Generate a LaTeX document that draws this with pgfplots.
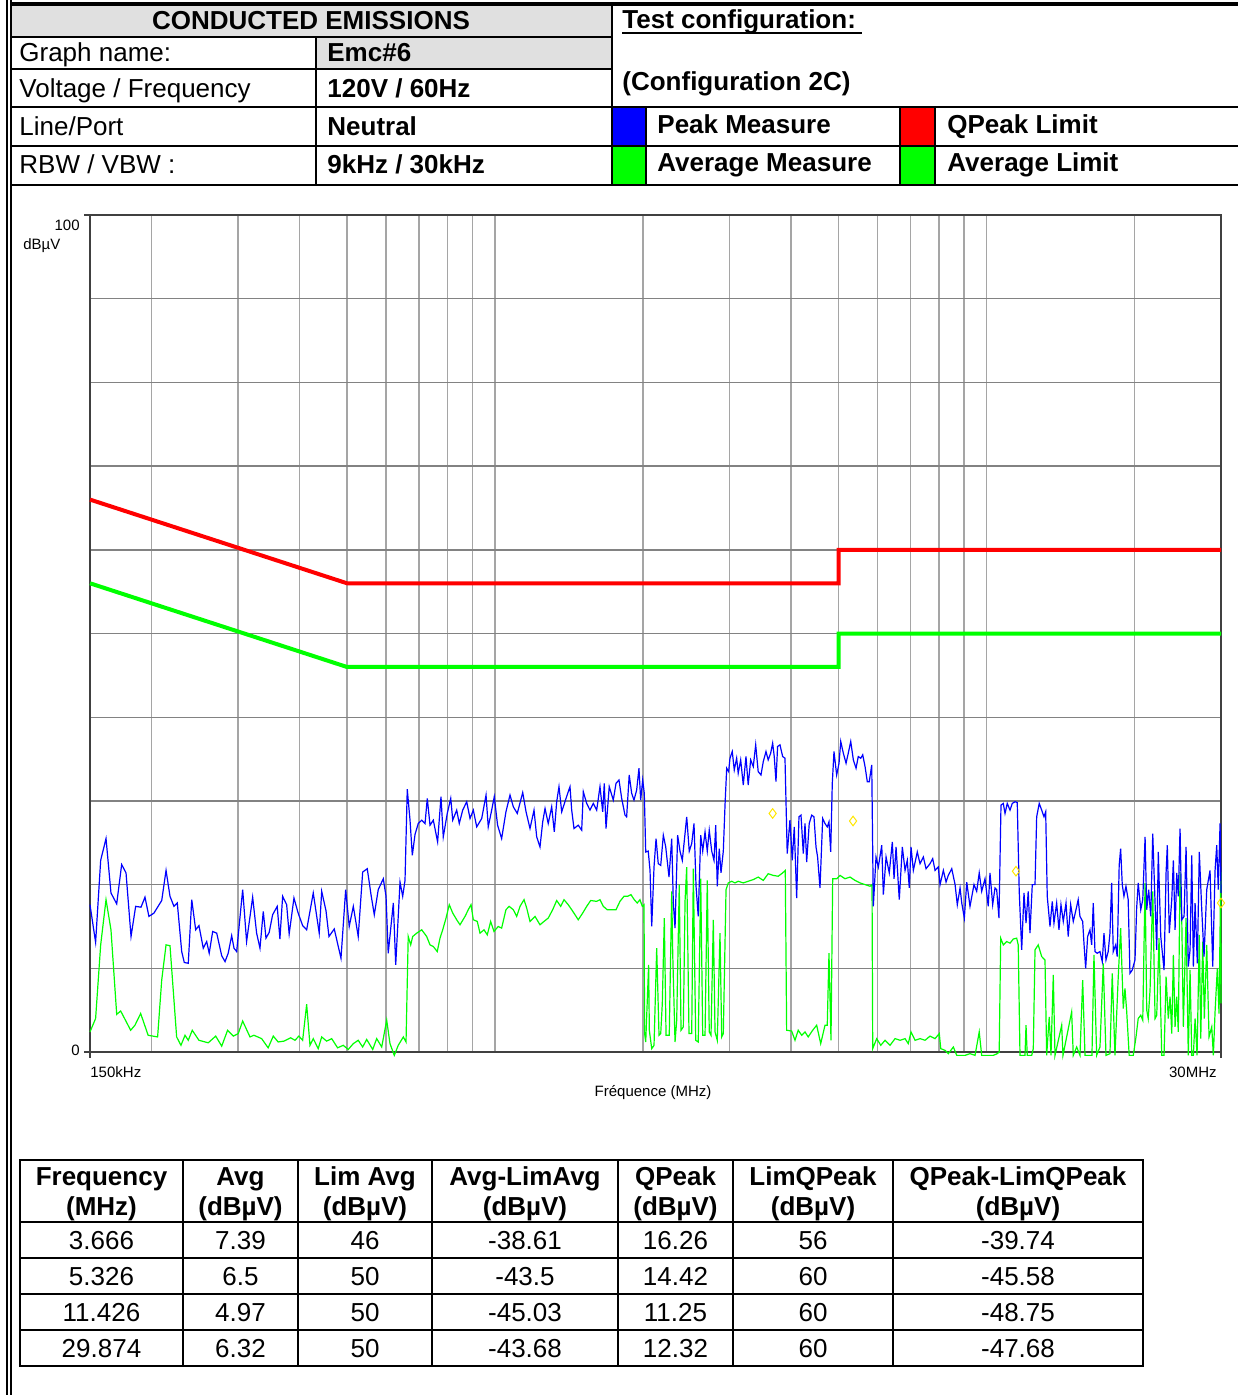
\documentclass[border=0pt]{standalone}
\usepackage{fontspec}
\setmainfont{Liberation Sans}
\usepackage{pgfplots}
\pgfplotsset{compat=1.18}

\definecolor{hdrgray}{RGB}{224,224,224}
\definecolor{gridv}{RGB}{165,165,165}
\definecolor{gridh}{RGB}{130,130,130}
\definecolor{peakblue}{RGB}{0,0,255}
\definecolor{avggreen}{RGB}{0,255,0}
\definecolor{limred}{RGB}{255,0,0}
\definecolor{qpyellow}{RGB}{255,230,0}

\newcommand{\hf}{\fontsize{13}{15}\selectfont}
\newcommand{\af}{\fontsize{7.5}{9}\selectfont}

\begin{document}
\begin{tikzpicture}
\begin{scope}[x=0.5pt,y=-0.5pt,every node/.style={inner sep=0pt}]
\path[use as bounding box] (0,0) rectangle (1238,1395);
% header table
\fill[hdrgray] (10.5,4) rectangle (612,37);
\fill[hdrgray] (316,37) rectangle (612,69);
\fill[peakblue] (612,107) rectangle (646,146);
\fill[avggreen] (612,146) rectangle (646,185);
\fill[limred] (900,107) rectangle (935,146);
\fill[avggreen] (900,146) rectangle (935,185);
\draw[line width=1.6pt] (10.5,4) -- (1238,4);
\draw[line width=1pt] (10.5,37) -- (612,37) (10.5,69) -- (612,69);
\draw[line width=1pt] (10.5,107) -- (1238,107) (10.5,146) -- (1238,146);
\draw[line width=1.4pt] (10.5,185) -- (1238,185);
\draw[line width=1pt] (316,37) -- (316,185) (612,4) -- (612,185)
  (646,107) -- (646,185) (900,107) -- (900,185) (935,107) -- (935,185);
\draw[line width=1pt] (6.5,0) -- (6.5,1395) (10.5,0) -- (10.5,1395);

\node[anchor=base,font=\bfseries\hf] at (311,30) {CONDUCTED EMISSIONS};
\node[anchor=base west,font=\hf] at (19,62) {Graph name:};
\node[anchor=base west,font=\hf] at (19,98) {Voltage / Frequency};
\node[anchor=base west,font=\hf] at (19,136) {Line/Port};
\node[anchor=base west,font=\hf] at (19,174) {RBW / VBW :};
\node[anchor=base west,font=\bfseries\hf] at (327,62) {Emc\#6};
\node[anchor=base west,font=\bfseries\hf] at (327,98) {120V / 60Hz};
\node[anchor=base west,font=\bfseries\hf] at (327,136) {Neutral};
\node[anchor=base west,font=\bfseries\hf] at (327,174) {9kHz / 30kHz};
\node[anchor=base west,font=\bfseries\hf] at (622,29) {Test configuration:};
\draw[line width=1pt] (622,33) -- (862,33);
\node[anchor=base west,font=\bfseries\hf] at (622,91) {(Configuration 2C)};
\node[anchor=base west,font=\bfseries\hf] at (657,134) {Peak Measure};
\node[anchor=base west,font=\bfseries\hf] at (657,172) {Average Measure};
\node[anchor=base west,font=\bfseries\hf] at (947,134) {QPeak Limit};
\node[anchor=base west,font=\bfseries\hf] at (947,172) {Average Limit};

% axis texts
\node[anchor=base east,font=\af] at (80,231) {100};
\node[anchor=base west,font=\af] at (23,250) {dBµV};
\node[anchor=base east,font=\af] at (80,1055) {0};
\node[anchor=base west,font=\af] at (90,1077) {150kHz};
\node[anchor=base east,font=\af] at (1217,1077) {30MHz};
\node[anchor=base,font=\af] at (653,1096) {Fréquence (MHz)};
\draw[line width=0.6pt,black!75] (84,215) -- (90,215) (84,1052) -- (90,1052)
  (90,1052) -- (90,1058) (1221,1052) -- (1221,1058);

% results table
\draw[line width=1.2pt] (20,1160) rectangle (1143,1366);
\draw[line width=1pt] (20,1222) -- (1143,1222) (20,1258) -- (1143,1258)
  (20,1294) -- (1143,1294) (20,1330) -- (1143,1330);
\draw[line width=1pt] (183,1160) -- (183,1366) (298,1160) -- (298,1366)
  (432,1160) -- (432,1366) (618,1160) -- (618,1366) (733,1160) -- (733,1366)
  (893,1160) -- (893,1366);
\foreach \cx/\ta/\tb in {101.5/Frequency/(MHz), 240.5/Avg/(dBµV), 365/Lim Avg/(dBµV),
    525/Avg-LimAvg/(dBµV), 675.5/QPeak/(dBµV), 813/LimQPeak/(dBµV), 1018/QPeak-LimQPeak/(dBµV)} {
  \node[anchor=base,font=\bfseries\hf] at (\cx,1185) {\ta};
  \node[anchor=base,font=\bfseries\hf] at (\cx,1215) {\tb};
}
\foreach \ry/\a/\b/\c/\d/\e/\f/\g in {
    1249/3.666/7.39/46/-38.61/16.26/56/-39.74,
    1285/5.326/6.5/50/-43.5/14.42/60/-45.58,
    1321/11.426/4.97/50/-45.03/11.25/60/-48.75,
    1357/29.874/6.32/50/-43.68/12.32/60/-47.68} {
  \node[anchor=base,font=\hf] at (101.5,\ry) {\a};
  \node[anchor=base,font=\hf] at (240.5,\ry) {\b};
  \node[anchor=base,font=\hf] at (365,\ry) {\c};
  \node[anchor=base,font=\hf] at (525,\ry) {\d};
  \node[anchor=base,font=\hf] at (675.5,\ry) {\e};
  \node[anchor=base,font=\hf] at (813,\ry) {\f};
  \node[anchor=base,font=\hf] at (1018,\ry) {\g};
}
\end{scope}

\begin{axis}[
  at={(45pt,-526pt)}, anchor=south west,
  scale only axis, width=565.5pt, height=418.5pt,
  xmode=log, xmin=0.15, xmax=30, ymin=0, ymax=100,
  xtick={0.2,0.3,0.4,0.5,0.6,0.7,0.8,0.9,1,2,3,4,5,6,7,8,9,10,20},
  ytick={10,20,30,40,50,60,70,80,90},
  xticklabels={}, yticklabels={},
  major tick length=0pt,
  xmajorgrids, ymajorgrids,
  x grid style={gridv, line width=0.7pt},
  y grid style={gridh, line width=0.7pt},
  axis line style={black!75, line width=0.7pt},
  clip=false,
]
% limits
\addplot[limred, line width=2pt] coordinates {(0.15,66) (0.5,56) (5,56) (5,60) (30,60)};
\addplot[avggreen, line width=2pt] coordinates {(0.15,56) (0.5,46) (5,46) (5,50) (30,50)};

% average measure
\addplot[avggreen, line width=0.6pt] coordinates {
(0.150,2.4)(0.1540,4.0)(0.1577,12.8)(0.1617,18.2)(0.1655,14.6)(0.1700,4.5)(0.1732,4.9)(0.1815,2.6)(0.1852,3.2)(0.1902,4.6)
(0.1970,2.0)(0.2059,1.8)(0.2099,8.6)(0.2142,12.8)(0.2182,12.7)(0.2251,1.8)(0.2297,0.8)(0.2341,2.0)(0.2377,1.4)(0.2422,2.6)
(0.2499,1.4)(0.2610,1.1)(0.2703,1.9)(0.2780,0.7)(0.2858,2.6)(0.2935,1.9)(0.3004,2.2)(0.3067,3.7)(0.3174,1.8)(0.3233,2.0)
(0.3352,1.6)(0.3456,0.5)(0.3540,1.9)(0.3622,1.2)(0.3721,1.3)(0.3840,1.7)(0.3919,1.4)(0.3992,1.9)(0.4062,1.4)(0.4139,5.7)
(0.4204,0.8)(0.4269,1.6)(0.4369,0.4)(0.4441,1.8)(0.4545,1.3)(0.4654,1.6)(0.4784,0.5)(0.4913,0.8)(0.5028,0.3)(0.5150,1.0)
(0.5270,1.4)(0.5381,0.6)(0.5483,1.5)(0.5640,0.3)(0.5746,1.6)(0.5883,0.6)(0.6022,3.8)(0.6116,1.0)(0.6240,-0.4)(0.6357,0.8)
(0.6510,1.8)(0.6593,1.2)(0.6661,13.8)(0.6739,12.8)(0.6802,13.8)(0.6931,14.2)(0.7096,14.6)(0.7263,13.8)(0.7377,12.8)(0.7492,12.6)
(0.7632,12.0)(0.7731,13.6)(0.7829,14.6)(0.7952,16.0)(0.8073,17.6)(0.8205,16.6)(0.8359,15.8)(0.8490,15.2)(0.8692,16.2)(0.8824,17.0)
(0.8939,17.6)(0.9036,15.8)(0.9205,15.6)(0.9323,14.2)(0.9500,14.6)(0.9646,14.0)(0.9801,15.6)(0.9954,14.4)(1.0153,15.0)(1.0317,14.8)
(1.0528,17.0)(1.0687,17.4)(1.0897,17.0)(1.1071,16.2)(1.1245,17.4)(1.1458,18.2)(1.1603,17.2)(1.1784,15.6)(1.2064,16.2)(1.2349,15.2)
(1.2582,15.6)(1.2834,16.0)(1.3105,17.0)(1.3353,18.1)(1.3607,17.4)(1.3818,18.2)(1.4095,17.6)(1.4326,17.0)(1.4550,16.4)(1.4771,15.8)
(1.5083,16.6)(1.5368,17.4)(1.5659,18.1)(1.6104,18.0)(1.6357,18.2)(1.6612,17.4)(1.6923,17.0)(1.7278,17.0)(1.7631,17.0)(1.7963,18.0)
(1.8303,18.6)(1.8615,18.6)(1.8913,18.8)(1.9207,18.2)(1.9476,17.8)(1.9728,18.2)(1.9941,17.4)(2.0101,17.6)(2.0158,2.2)(2.0263,1.2)
(2.0541,10.4)(2.0608,2.6)(2.0841,0.4)(2.1067,0.8)(2.1333,12.4)(2.1565,2.0)(2.1739,2.2)(2.1901,5.8)(2.2107,16.0)(2.2287,2.0)
(2.2625,2.0)(2.2888,19.2)(2.2994,11.8)(2.3246,1.2)(2.3428,3.8)(2.3710,20.0)(2.3907,2.6)(2.4166,3.0)(2.4361,18.0)(2.4552,22.1)
(2.4818,2.2)(2.5135,2.2)(2.5325,21.9)(2.5612,1.4)(2.5916,1.2)(2.6218,20.7)(2.6464,2.0)(2.6754,2.0)(2.7036,20.5)(2.7287,2.4)
(2.7514,2.0)(2.7812,15.8)(2.8037,2.4)(2.8333,1.4)(2.8698,14.2)(2.8928,1.8)(2.9146,2.2)(2.9519,19.4)(2.9826,20.2)(3.0311,20.4)
(3.0786,20.2)(3.1252,20.4)(3.2004,20.2)(3.2750,20.4)(3.3538,20.6)(3.4321,20.9)(3.5147,20.5)(3.5967,21.3)(3.6833,21.1)(3.7705,21.0)
(3.8489,21.4)(3.8964,21.7)(3.9214,2.6)(4.0148,2.5)(4.0777,1.4)(4.1394,2.6)(4.2076,2.0)(4.2736,2.4)(4.3382,1.8)(4.4299,2.6)
(4.5134,3.2)(4.5992,1.0)(4.6932,3.2)(4.7427,3.2)(4.7812,11.8)(4.8265,1.4)(4.8649,20.7)(4.9567,20.7)(5.0354,21.1)(5.1552,20.7)
(5.2769,20.9)(5.4025,20.5)(5.5299,20.2)(5.6615,20.0)(5.7951,19.8)(5.8496,20.0)(5.8687,0.4)(5.9795,1.6)(6.0936,0.8)(6.2182,1.4)
(6.3648,0.8)(6.5163,1.6)(6.6701,1.4)(6.8288,1.6)(6.9322,1.0)(7.0229,2.4)(7.1564,1.4)(7.3253,1.6)(7.4996,1.4)(7.6766,1.9)
(7.8593,1.6)(8.0159,2.2)(8.0716,0.4)(8.2366,0.2)(8.3613,-0.2)(8.5624,0.6)(8.6990,-0.4)(8.8352,-0.4)(9.0455,-0.4)(9.2565,-0.2)
(9.4768,-0.4)(9.6656,2.4)(9.7780,-0.4)(10.009,-0.4)(10.324,-0.4)(10.517,-0.2)(10.614,0.0)(10.688,13.6)(10.819,12.8)(10.992,13.2)
(11.164,13.0)(11.338,13.5)(11.519,13.6)(11.603,12.8)(11.699,-0.4)(11.977,-0.4)(12.034,3.2)(12.104,-0.4)(12.358,-0.4)(12.451,0.4)
(12.552,12.2)(12.742,12.8)(12.951,11.4)(13.154,11.0)(13.257,-0.4)(13.416,4.2)(13.527,-0.4)(13.674,9.2)(13.784,-0.4)(14.223,3.2)
(14.309,-0.4)(14.904,4.8)(15.017,-0.4)(15.256,0.6)(15.495,-0.4)(15.692,8.6)(15.864,-0.4)(16.391,-0.4)(16.545,11.6)(16.754,-0.4)
(17.017,0.6)(17.282,10.6)(17.504,-0.4)(17.833,-0.2)(18.026,9.4)(18.257,-0.4)(18.534,8.8)(18.750,14.8)(18.980,5.2)(19.133,7.6)
(19.282,5.0)(19.514,-0.4)(19.891,-0.4)(20.145,1.8)(20.355,4.0)(20.600,4.4)(20.793,3.8)(21.021,20.2)(21.185,5.0)(21.333,4.0)
(21.516,7.4)(21.789,19.2)(22.028,4.0)(22.200,4.4)(22.441,13.6)(22.728,-0.4)(22.974,-0.4)(23.193,9.0)(23.434,4.0)(23.630,6.6)
(23.819,2.2)(23.999,11.6)(24.192,3.0)(24.381,6.6)(24.559,2.4)(24.763,21.5)(24.961,16.0)(25.149,3.0)(25.471,16.0)(25.736,-0.4)
(25.951,9.8)(26.159,-0.4)(26.356,-0.4)(26.569,4.0)(26.815,-0.4)(27.098,14.0)(27.285,1.6)(27.540,13.2)(27.747,4.0)(28.060,12.8)
(28.366,1.8)(28.727,3.0)(28.944,-0.4)(29.177,4.8)(29.485,10.0)(29.725,4.6)(29.965,21.5)(30.0,5.8)
};

% peak measure
\addplot[peakblue, line width=0.6pt] coordinates {
(0.150,17.6)(0.1540,13.1)(0.1577,22.9)(0.1617,25.5)(0.1655,19.0)(0.1700,17.7)(0.1740,22.4)(0.1776,21.4)(0.1818,13.8)(0.1858,17.4)
(0.1905,17.3)(0.1941,18.5)(0.1977,16.2)(0.2024,16.6)(0.2099,18.1)(0.2142,21.7)(0.2182,18.6)(0.2223,17.4)(0.2258,17.8)(0.2305,12.0)
(0.2333,10.7)(0.2377,10.6)(0.2416,18.2)(0.2461,14.6)(0.2499,15.1)(0.2550,12.4)(0.2591,13.2)(0.2622,11.8)(0.2665,14.4)(0.2716,14.2)
(0.2780,11.5)(0.2824,10.8)(0.2866,11.8)(0.2913,13.9)(0.2945,12.4)(0.2982,12.0)(0.3067,19.4)(0.3124,13.2)(0.3214,18.5)(0.3274,14.2)
(0.3326,12.4)(0.3378,16.8)(0.3421,13.6)(0.3473,14.3)(0.3529,16.4)(0.3606,17.4)(0.3652,13.5)(0.3699,18.6)(0.3769,17.6)(0.3814,14.1)
(0.3900,18.4)(0.3978,16.6)(0.4062,15.1)(0.4139,14.6)(0.4269,19.0)(0.4390,14.2)(0.4441,19.2)(0.4531,16.9)(0.4595,13.8)(0.4710,14.7)
(0.4861,11.2)(0.4969,19.4)(0.5052,15.0)(0.5150,17.4)(0.5270,13.8)(0.5381,21.5)(0.5498,21.9)(0.5595,18.8)(0.5682,16.4)(0.5788,19.4)
(0.5927,20.7)(0.6003,18.6)(0.6065,11.8)(0.6212,17.8)(0.6282,10.4)(0.6410,20.3)(0.6491,18.6)(0.6562,20.5)(0.6631,31.4)(0.6717,27.7)
(0.6790,23.5)(0.6877,26.0)(0.6981,27.3)(0.7096,27.7)(0.7207,27.3)(0.7283,30.3)(0.7377,27.1)(0.7492,27.7)(0.7645,25.1)(0.7767,30.5)
(0.7851,25.7)(0.7998,28.5)(0.8129,30.3)(0.8205,27.7)(0.8359,28.9)(0.8460,27.3)(0.8598,28.9)(0.8760,29.9)(0.8898,27.9)(0.9036,28.9)
(0.9181,26.9)(0.9398,27.9)(0.9590,30.7)(0.9690,26.9)(0.9847,28.9)(0.9967,30.5)(1.0124,27.1)(1.0317,25.5)(1.0528,28.7)(1.0730,30.7)
(1.0897,29.3)(1.1101,28.5)(1.1388,31.0)(1.1567,28.7)(1.1784,26.7)(1.2007,28.9)(1.2159,25.7)(1.2349,24.5)(1.2506,27.5)(1.2643,29.1)
(1.2834,27.3)(1.3044,29.3)(1.3204,26.3)(1.3353,29.9)(1.3497,31.7)(1.3670,28.7)(1.3950,30.3)(1.4212,31.7)(1.4326,28.9)(1.4481,26.7)
(1.4771,27.1)(1.5013,26.5)(1.5126,31.1)(1.5368,29.7)(1.5608,28.9)(1.5851,29.7)(1.6104,28.9)(1.6357,31.7)(1.6565,28.7)(1.6689,32.1)
(1.6825,26.7)(1.7080,31.7)(1.7408,30.1)(1.7631,32.1)(1.7878,32.5)(1.8107,30.3)(1.8391,28.3)(1.8534,28.1)(1.8757,33.1)(1.8976,30.9)
(1.9181,30.1)(1.9424,31.3)(1.9634,33.9)(1.9793,30.1)(1.9979,32.5)(2.0128,30.9)(2.0263,23.9)(2.0503,24.0)(2.0676,21.7)(2.0841,15.0)
(2.1067,22.1)(2.1267,25.5)(2.1489,22.5)(2.1739,22.3)(2.2005,25.9)(2.2254,24.5)(2.2599,20.9)(2.2888,25.5)(2.3060,17.8)(2.3246,14.8)
(2.3530,25.9)(2.3795,24.0)(2.4052,22.9)(2.4361,26.1)(2.4552,28.1)(2.4847,24.0)(2.5135,24.9)(2.5407,27.3)(2.5649,19.8)(2.5916,16.2)
(2.6218,25.9)(2.6464,24.0)(2.6754,26.3)(2.7036,24.0)(2.7287,26.5)(2.7604,24.0)(2.7903,22.9)(2.8127,27.1)(2.8333,19.8)(2.8595,24.3)
(2.8833,21.4)(2.9146,24.0)(2.9381,29.5)(2.9611,33.9)(2.9880,33.5)(3.0070,35.1)(3.0395,35.9)(3.0680,33.7)(3.1026,35.1)(3.1252,33.3)
(3.1616,34.9)(3.2004,31.9)(3.2413,35.3)(3.2750,31.9)(3.3132,34.9)(3.3538,34.1)(3.3918,36.7)(3.4321,33.5)(3.4770,33.1)(3.5147,34.7)
(3.5597,35.9)(3.5967,34.9)(3.6387,35.7)(3.6728,36.9)(3.7003,35.3)(3.7304,32.3)(3.7584,36.5)(3.8006,36.7)(3.8489,35.3)(3.8911,35.1)
(3.9321,23.7)(3.9829,27.7)(4.0259,22.9)(4.0638,26.9)(4.1096,18.4)(4.1542,28.1)(4.1938,28.3)(4.2393,23.7)(4.2736,27.3)(4.3069,22.7)
(4.3587,27.3)(4.4093,28.3)(4.4570,28.1)(4.4994,24.5)(4.5331,23.3)(4.5841,19.6)(4.6423,27.9)(4.6932,27.3)(4.7427,26.9)(4.7812,27.5)
(4.8198,23.9)(4.8558,32.1)(4.8947,35.9)(4.9567,33.1)(5.012,34.5)(5.0520,37.1)(5.1139,35.7)(5.1794,34.5)(5.2333,35.7)(5.2943,37.1)
(5.3592,34.9)(5.4278,33.9)(5.4843,35.3)(5.5482,35.1)(5.6001,35.5)(5.6615,34.1)(5.7212,32.3)(5.7743,32.3)(5.8415,34.3)(5.8855,17.4)
(5.960,23.3)(6.0250,22.1)(6.1222,24.7)(6.1683,18.8)(6.2473,23.3)(6.3420,21.4)(6.4335,25.1)(6.4851,20.7)(6.5468,24.5)(6.6461,18.2)
(6.7421,24.5)(6.8288,21.7)(6.9009,22.9)(6.9649,19.6)(7.0229,24.5)(7.0990,21.7)(7.2318,23.9)(7.3253,22.5)(7.4396,23.3)(7.5348,21.9)
(7.6766,22.5)(7.7741,23.1)(7.8593,21.7)(7.9783,22.1)(8.0451,20.0)(8.1706,21.7)(8.2752,20.3)(8.3613,21.1)(8.4983,21.9)(8.6316,20.0)
(8.7226,17.6)(8.8352,19.6)(8.9059,17.8)(9.0146,16.0)(9.1162,20.3)(9.2565,17.4)(9.4314,20.0)(9.5509,19.2)(9.6656,21.4)(9.7780,19.2)
(9.9313,20.7)(10.082,17.4)(10.165,21.4)(10.294,17.6)(10.407,19.6)(10.488,19.4)(10.602,16.0)(10.703,29.5)(10.819,29.7)(10.907,28.5)
(11.022,29.7)(11.164,28.9)(11.285,29.7)(11.430,29.9)(11.550,29.8)(11.657,19.2)(11.793,12.2)(11.920,19.0)(12.034,15.4)(12.159,19.2)
(12.260,14.2)(12.392,20.0)(12.552,20.0)(12.650,28.1)(12.802,29.7)(12.951,28.9)(13.091,28.1)(13.196,28.7)(13.293,18.6)(13.464,15.0)
(13.609,18.0)(13.718,15.4)(13.892,17.8)(14.043,14.6)(14.176,17.6)(14.330,15.6)(14.514,17.8)(14.665,13.8)(14.835,17.6)(15.017,15.6)
(15.209,17.0)(15.367,18.2)(15.495,16.2)(15.692,15.6)(15.788,13.0)(15.915,10.0)(16.062,13.8)(16.238,14.6)(16.368,12.8)(16.491,17.8)
(16.624,12.0)(16.800,11.8)(17.017,12.0)(17.201,10.8)(17.339,14.2)(17.504,11.0)(17.686,12.0)(17.833,14.2)(17.976,20.2)(18.111,12.0)
(18.316,12.8)(18.450,11.4)(18.621,22.3)(18.750,24.3)(18.890,20.0)(19.041,18.6)(19.222,19.8)(19.422,18.2)(19.585,9.4)(19.797,9.8)
(20.051,11.0)(20.208,17.2)(20.355,20.2)(20.600,17.0)(20.793,18.2)(21.021,25.7)(21.185,17.0)(21.378,19.4)(21.587,16.2)(21.789,26.1)
(22.028,17.8)(22.200,12.2)(22.362,23.9)(22.622,13.8)(22.974,9.8)(23.193,21.4)(23.328,24.7)(23.545,14.2)(23.819,18.2)(23.999,22.9)
(24.192,14.6)(24.381,21.4)(24.559,18.6)(24.763,26.7)(24.961,15.8)(25.231,16.2)(25.471,24.5)(25.736,10.2)(25.951,12.2)(26.159,23.5)
(26.356,10.2)(26.569,17.8)(26.849,10.6)(27.098,23.9)(27.413,17.0)(27.709,11.4)(28.060,19.4)(28.499,21.7)(28.861,10.2)(29.177,21.7)
(29.405,24.7)(29.619,19.4)(29.866,27.3)(30.0,19.0)
};

% quasi-peak points
\addplot[only marks, mark=diamond, mark size=2.4pt, mark options={draw=qpyellow, line width=0.5pt, fill=none}]
  coordinates {(3.673,28.5) (5.352,27.6) (11.48,21.6) (30,17.8)};
\end{axis}
\end{tikzpicture}
\end{document}
